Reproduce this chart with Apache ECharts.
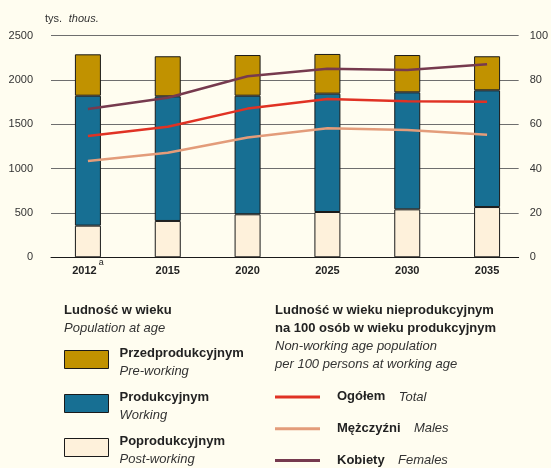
<!DOCTYPE html>
<html>
<head>
<meta charset="UTF-8" />
<title>Ludność w wieku</title>
<style>
    html, body { margin: 0; padding: 0; background: #fffdf0; }
    #container { width: 551px; height: 468px; }
</style>
</head>
<body>
<div id="container"></div>
<script src="https://cdn.jsdelivr.net/npm/echarts@6/dist/echarts.min.js"></script>
<script type="text/javascript">

    // lata
    var years = ['2012', '2015', '2020', '2025', '2030', '2035'];

    // ludność w tys. (od dołu: poprodukcyjny, produkcyjny, przedprodukcyjny)
    var postWorking = [357, 410, 485, 511, 541, 567];
    var working = [1466, 1406, 1338, 1335, 1320, 1317];
    var preWorking = [467, 452, 459, 448, 421, 384];

    // ludność w wieku nieprodukcyjnym na 100 osób w wieku produkcyjnym
    var ratioTotal = [54.7, 58.9, 67.1, 71.4, 70.4, 70.2];
    var ratioMales = [43.5, 47.2, 54.1, 58.2, 57.4, 55.3];
    var ratioFemales = [66.9, 72.0, 81.7, 85.1, 84.5, 87.1];

    var leftTicks = [0, 500, 1000, 1500, 2000, 2500];
    var rightTicks = [0, 20, 40, 60, 80, 100];

    // nazwy do legendy
    var barNames = ['Przedprodukcyjnym', 'Produkcyjnym', 'Poprodukcyjnym'];
    var barNamesEn = ['Pre-working', 'Working', 'Post-working'];
    var lineNames = ['Ogółem', 'Mężczyźni', 'Kobiety'];
    var lineNamesEn = ['Total', 'Males', 'Females'];

    var FONT = '"Liberation Sans", Arial, sans-serif';
    var TXT = '#222';

    var dom = document.getElementById('container');
    var myChart = echarts.init(dom);

    var barStyle = function (color) {
        return { color: color, borderColor: '#1a1a1a', borderWidth: 1 };
    };

    var option = {
        backgroundColor: '#fffdf0',
        animation: false,
        textStyle: { fontFamily: FONT },
        grid: [
            // siatka + osie y
            { left: 51, right: 32, top: 35.7, bottom: 210.7 },
            // słupki i linie
            { left: 48, right: 24, top: 35.7, bottom: 210.7 }
        ],
        xAxis: [
            {
                type: 'category', gridIndex: 0, data: years,
                axisLine: { lineStyle: { color: '#1a1a1a', width: 1 } },
                axisTick: { show: false },
                axisLabel: { show: false }
            },
            {
                type: 'category', gridIndex: 1, data: years,
                axisLine: { show: false },
                axisTick: { show: false },
                axisLabel: {
                    margin: 1,
                    interval: 0,
                    formatter: function (v, i) {
                        return i === 0 ? '{y|' + v + '}{s|a}' : '{y|' + v + '}';
                    },
                    rich: {
                        y: { fontFamily: FONT, fontSize: 11, fontWeight: 'bold', color: TXT, lineHeight: 26 },
                        s: { fontFamily: FONT, fontSize: 9, color: TXT, lineHeight: 11, verticalAlign: 'top', padding: [0, 0, 0, 2] }
                    }
                }
            }
        ],
        yAxis: [
            {
                type: 'value', gridIndex: 0, min: 0, max: 2500, interval: 500,
                axisLine: { show: false }, axisTick: { show: false },
                axisLabel: {
                    margin: 18, fontSize: 11, color: '#333', fontFamily: FONT,
                    formatter: function (v) { return String(v); }
                },
                splitLine: { lineStyle: { color: '#6e6e6e', width: 1 } }
            },
            {
                type: 'value', gridIndex: 0, min: 0, max: 100, interval: 20, position: 'right',
                axisLine: { show: false }, axisTick: { show: false },
                axisLabel: {
                    margin: 11, fontSize: 11, color: '#333', fontFamily: FONT,
                    formatter: function (v) { return String(v); }
                },
                splitLine: { show: false }
            },
            {
                type: 'value', gridIndex: 1, min: 0, max: 2500, interval: 500, show: false
            },
            {
                type: 'value', gridIndex: 1, min: 0, max: 100, interval: 20, show: false
            }
        ],
        legend: [
            {
                left: 64, top: 346.5, padding: 0,
                orient: 'vertical',
                itemWidth: 44, itemHeight: 18, itemGap: 13,
                icon: 'rect',
                itemStyle: { borderWidth: 1, borderColor: '#1a1a1a' },
                data: barNames,
                formatter: function (name) {
                    var i = barNames.indexOf(name);
                    return '{b|' + name + '}\n{i|' + barNamesEn[i] + '}';
                },
                textStyle: {
                    padding: [5, 0, 0, 6],
                    rich: {
                        b: { fontFamily: FONT, fontSize: 13, fontWeight: 'bold', color: TXT, lineHeight: 18 },
                        i: { fontFamily: FONT, fontSize: 13, fontStyle: 'italic', color: '#333', lineHeight: 18 }
                    }
                }
            },
            {
                left: 275, top: 390.4, padding: 0,
                orient: 'vertical',
                itemWidth: 45, itemHeight: 3, itemGap: 18.8,
                icon: 'rect',
                data: lineNames,
                formatter: function (name) {
                    var i = lineNames.indexOf(name);
                    return '{b|' + name + '}    {i|' + lineNamesEn[i] + '}';
                },
                textStyle: {
                    padding: [0, 0, 0, 12],
                    rich: {
                        b: { fontFamily: FONT, fontSize: 13, fontWeight: 'bold', color: TXT, lineHeight: 18 },
                        i: { fontFamily: FONT, fontSize: 13, fontStyle: 'italic', color: '#333', lineHeight: 18 }
                    }
                }
            }
        ],
        graphic: [
            {
                type: 'text', left: 45, top: 13,
                style: {
                    text: '{n|tys.}  {i|thous.}',
                    rich: {
                        n: { fontFamily: FONT, fontSize: 11, fill: '#333' },
                        i: { fontFamily: FONT, fontSize: 11, fontStyle: 'italic', fill: '#333' }
                    }
                }
            },
            {
                type: 'text', left: 64, top: 304,
                style: {
                    text: '{b|Ludność w wieku}\n{i|Population at age}',
                    rich: {
                        b: { fontFamily: FONT, fontSize: 13, fontWeight: 'bold', fill: TXT, lineHeight: 18 },
                        i: { fontFamily: FONT, fontSize: 13, fontStyle: 'italic', fill: '#333', lineHeight: 18 }
                    }
                }
            },
            {
                type: 'text', left: 275, top: 304,
                style: {
                    text: '{b|Ludność w wieku nieprodukcyjnym}\n{b|na 100 osób w wieku produkcyjnym}\n{i|Non-working age population}\n{i|per 100 persons at working age}',
                    rich: {
                        b: { fontFamily: FONT, fontSize: 13, fontWeight: 'bold', fill: TXT, lineHeight: 18 },
                        i: { fontFamily: FONT, fontSize: 13, fontStyle: 'italic', fill: '#333', lineHeight: 18 }
                    }
                }
            }
        ],
        series: [
            {
                name: 'Poprodukcyjnym', type: 'bar', stack: 'ludnosc',
                xAxisIndex: 1, yAxisIndex: 2, barWidth: 26,
                itemStyle: barStyle('#fef1db'), data: postWorking
            },
            {
                name: 'Produkcyjnym', type: 'bar', stack: 'ludnosc',
                xAxisIndex: 1, yAxisIndex: 2, barWidth: 26,
                itemStyle: barStyle('#176f93'), data: working
            },
            {
                name: 'Przedprodukcyjnym', type: 'bar', stack: 'ludnosc',
                xAxisIndex: 1, yAxisIndex: 2, barWidth: 26,
                itemStyle: barStyle('#c19200'), data: preWorking
            },
            {
                name: 'Ogółem', type: 'line', xAxisIndex: 1, yAxisIndex: 3,
                symbol: 'none', lineStyle: { color: '#e03224', width: 2.5 },
                itemStyle: { color: '#e03224' }, data: ratioTotal
            },
            {
                name: 'Mężczyźni', type: 'line', xAxisIndex: 1, yAxisIndex: 3,
                symbol: 'none', lineStyle: { color: '#e39c7a', width: 2.5 },
                itemStyle: { color: '#e39c7a' }, data: ratioMales
            },
            {
                name: 'Kobiety', type: 'line', xAxisIndex: 1, yAxisIndex: 3,
                symbol: 'none', lineStyle: { color: '#763a4e', width: 2.5 },
                itemStyle: { color: '#763a4e' }, data: ratioFemales
            }
        ]
    };

    myChart.setOption(option, true);
</script>
</body>
</html>
